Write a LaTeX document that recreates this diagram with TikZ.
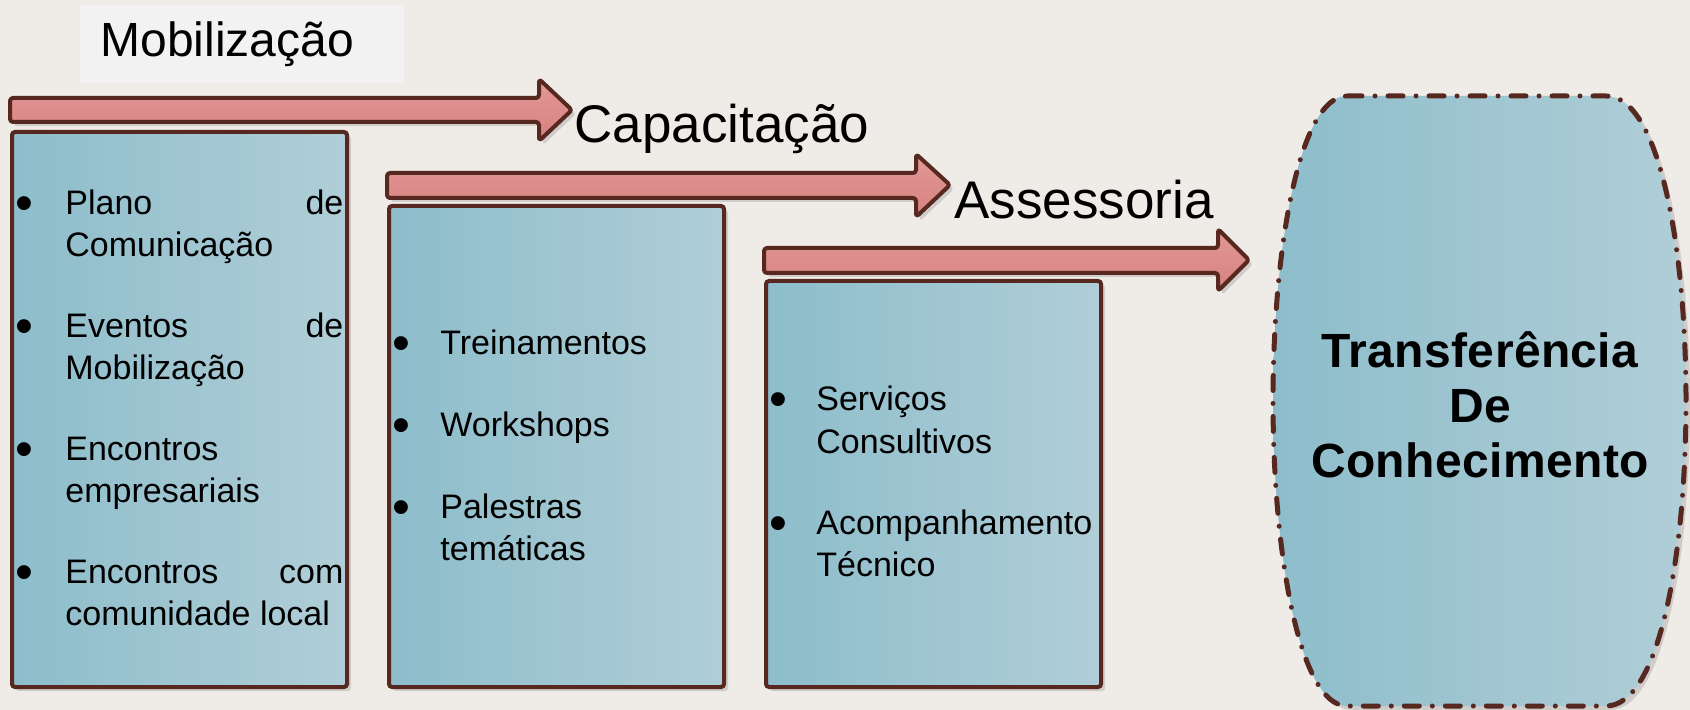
\documentclass[tikz,border=0pt]{standalone}
\usepackage{fontspec}
\setmainfont{Liberation Sans}
\usepackage{graphicx}
\usepackage{tikz}
\usetikzlibrary{shadows}

\definecolor{fundo}{RGB}{239,235,231}
\definecolor{contorno}{RGB}{86,40,32}
\definecolor{caixaA}{RGB}{141,189,203}
\definecolor{caixaB}{RGB}{176,206,215}
\definecolor{setaA}{RGB}{228,152,150}
\definecolor{setaB}{RGB}{213,130,128}
\definecolor{rotulo}{RGB}{242,242,242}

\newcommand\marca{\raisebox{-2.6pt}{\scalebox{1.5}{\textbullet}}}

\tikzset{
  sombra/.style={drop shadow={shadow xshift=2pt, shadow yshift=-2pt, fill=black, opacity=0.13}},
  caixa/.style={draw=contorno, line width=2pt, rounded corners=1.5pt, left color=caixaA, right color=caixaB,
    anchor=north west, minimum width=167.5pt, sombra},
  seta/.style={draw=contorno, line width=2pt, line join=round, rounded corners=1.5pt, top color=setaA, bottom color=setaB, sombra},
  fase/.style={font=\fontsize{26.5}{30}\selectfont, inner sep=0pt, anchor=base west},
  itens/.style={font=\fontsize{17}{21}\selectfont, inner sep=0pt, anchor=base west},
}

\begin{document}
\begin{tikzpicture}[x=0.5pt, y=-0.5pt]
  \fill[fundo] (0,0) rectangle (1690,710);
  \useasboundingbox (0,0) rectangle (1690,710);

  \node[fill=rotulo, anchor=north west, minimum width=162pt, minimum height=39pt, text width=142pt,
    inner xsep=10pt, font=\fontsize{24}{28}\selectfont] (mobilizacao) at (80,5) {Mobilização};

  \draw[seta] (10,98) -- (539,98) -- (539,79) -- (572,110) -- (539,141) -- (539,122) -- (10,122) -- cycle;
  \draw[seta] (387,173) -- (916,173) -- (916,154) -- (950,185) -- (916,217) -- (916,198) -- (387,198) -- cycle;
  \draw[seta] (764,248) -- (1218,248) -- (1218,229) -- (1249,260) -- (1218,291) -- (1218,273) -- (764,273) -- cycle;

  \node[fase] (capacitacao) at (574,143) {Capacitação};
  \node[fase] (assessoria) at (954,219) {Assessoria};

  \node[caixa, minimum height=277.5pt] (boxmob) at (10,130) {};
  \node[caixa, minimum height=240.5pt] (boxcap) at (387,204) {};
  \node[caixa, minimum height=203pt] (boxass) at (764,279) {};

  \node[itens] (itmob) at (15,215) {\begin{tabular}[t]{@{}p{25pt}@{}p{139pt}@{}}
    \marca & Plano \hfill de\\
     & Comunicação\\[19.5pt]
    \marca & Eventos \hfill de\\
     & Mobilização\\[19.5pt]
    \marca & Encontros\\
     & empresariais\\[19.5pt]
    \marca & Encontros \hfill com\\
     & comunidade local
  \end{tabular}};
  \node[itens] (itcap) at (392,355) {\begin{tabular}[t]{@{}p{24pt}@{}p{139pt}@{}}
    \marca & Treinamentos\\[20pt]
    \marca & Workshops\\[20pt]
    \marca & Palestras\\
     & temáticas
  \end{tabular}};
  \node[itens] (itass) at (769,411) {\begin{tabular}[t]{@{}p{23.5pt}@{}p{139pt}@{}}
    \marca & Serviços\\
     & Consultivos\\[20pt]
    \marca & Acompanhamento\\
     & Técnico
  \end{tabular}};

  \draw[draw=contorno, line width=2.5pt, line cap=round, dash pattern=on 7.5pt off 6.5pt on 0pt off 6.5pt,
    left color=caixaA, right color=caixaB, sombra]
    (1347,96) -- (1606,96) .. controls (1660,96) and (1686,250) .. (1686,401)
    .. controls (1686,552) and (1660,706) .. (1606,706) -- (1347,706)
    .. controls (1299,706) and (1273,552) .. (1273,401)
    .. controls (1273,250) and (1299,96) .. (1347,96) -- cycle;
  \node[font=\bfseries\fontsize{24}{27.5}\selectfont\addfontfeatures{LetterSpace=0.8}, align=center] (transf) at (1480,405)
    {Transferência\\De\\Conhecimento};
\end{tikzpicture}
\end{document}
